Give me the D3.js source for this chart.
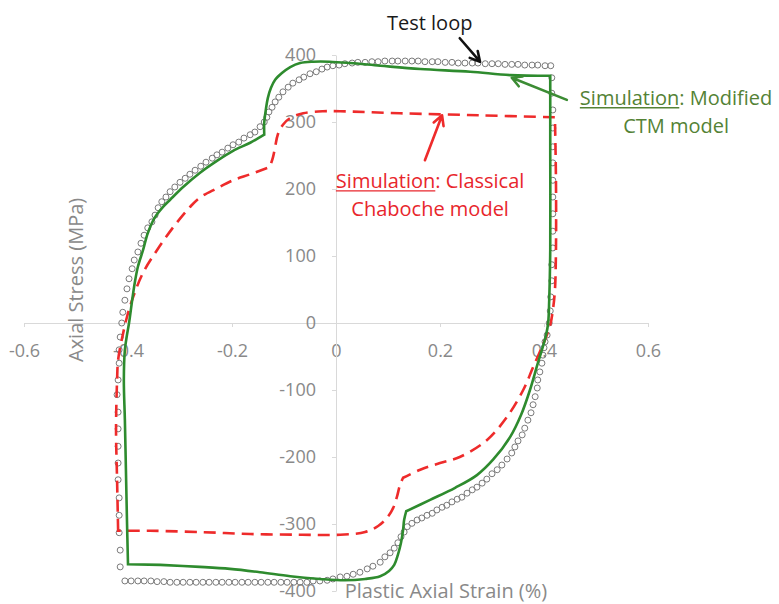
<!DOCTYPE html>
<html>
<head>
<meta charset="utf-8">
<script src="https://cdn.jsdelivr.net/npm/d3@7"></script>
<style>
  body { margin: 0; background: #fff; }
  svg { display: block; }
</style>
</head>
<body>
<svg id="chart" width="779" height="604"></svg>
<script>
// Axis ticks
const xTicks = [-0.6, -0.4, -0.2, 0, 0.2, 0.4, 0.6];
const xTickLabels = ["-0.6", "-0.4", "-0.2", "0", "0.2", "0.4", "0.6"];
const yTicks = [-400, -300, -200, -100, 0, 100, 200, 300, 400];
const yTickLabels = ["-400", "-300", "-200", "-100", "0", "100", "200", "300", "400"];

// Measured hysteresis loop: [plastic strain %, stress MPa]
const testLoading = [
  [-0.415,-364],[-0.415,-339],[-0.417,-313],[-0.417,-287],[-0.417,-261],[-0.419,-234],[-0.419,-209],
  [-0.419,-184],[-0.419,-158],[-0.419,-133],[-0.421,-107],[-0.419,-85],[-0.417,-60],[-0.417,-40],
  [-0.415,-21],[-0.412,0],[-0.410,16],[-0.406,34],[-0.402,51],[-0.398,66],[-0.392,81],[-0.388,94],
  [-0.381,106],[-0.375,119],[-0.369,131],[-0.362,142],[-0.354,151],[-0.348,161],[-0.342,172],
  [-0.335,181],[-0.327,188],[-0.319,196],[-0.310,203],[-0.300,210],[-0.290,216],[-0.281,222],
  [-0.271,228],[-0.260,234],[-0.250,240],[-0.238,246],[-0.229,251],[-0.219,255],[-0.208,261],
  [-0.198,266],[-0.187,270],[-0.177,276],[-0.165,281],[-0.156,285],[-0.146,293],[-0.138,300],
  [-0.133,307],[-0.129,315],[-0.123,322],[-0.117,330],[-0.110,337],[-0.102,345],[-0.092,352],
  [-0.083,358],[-0.071,363],[-0.062,367],[-0.050,372],[-0.038,375],[-0.027,379],[-0.017,382],
  [-0.006,384],[0.006,385],[0.017,387],[0.031,388],[0.042,389],[0.056,389],[0.069,390],[0.081,390],
  [0.094,391],[0.108,391],[0.119,391],[0.133,391],[0.146,391],[0.158,391],[0.171,390],[0.185,390],
  [0.196,390],[0.210,389],[0.223,389],[0.235,388],[0.248,388],[0.262,388],[0.273,388],[0.287,387],
  [0.300,387],[0.312,387],[0.325,386],[0.338,386],[0.350,386],[0.363,385],[0.377,385],[0.388,385],
  [0.402,384],[0.413,384]
];
const testUnloading = [
  [0.415,366],[0.415,343],[0.417,318],[0.417,291],[0.417,263],[0.417,239],[0.417,213],[0.417,188],
  [0.417,163],[0.417,137],[0.417,112],[0.415,87],[0.415,63],[0.413,39],[0.412,18],[0.410,0],
  [0.406,-18],[0.402,-28],[0.400,-37],[0.398,-48],[0.396,-60],[0.392,-73],[0.388,-85],[0.387,-97],
  [0.383,-110],[0.379,-122],[0.375,-134],[0.369,-145],[0.363,-157],[0.358,-167],[0.350,-176],
  [0.344,-185],[0.338,-194],[0.329,-203],[0.319,-212],[0.310,-219],[0.300,-225],[0.290,-233],
  [0.281,-239],[0.271,-245],[0.262,-249],[0.252,-254],[0.242,-260],[0.233,-263],[0.223,-267],
  [0.213,-272],[0.204,-275],[0.194,-279],[0.185,-284],[0.175,-287],[0.165,-291],[0.156,-294],
  [0.146,-299],[0.137,-304],[0.131,-312],[0.125,-319],[0.119,-328],[0.112,-336],[0.104,-343],
  [0.094,-349],[0.085,-357],[0.071,-363],[0.060,-367],[0.046,-372],[0.033,-375],[0.021,-378],
  [0.008,-379],[-0.006,-382],[-0.017,-384],[-0.031,-385],[-0.044,-385],[-0.056,-387],[-0.069,-387],
  [-0.081,-387],[-0.094,-387],[-0.106,-387],[-0.119,-387],[-0.131,-387],[-0.144,-387],[-0.156,-387],
  [-0.169,-387],[-0.181,-387],[-0.194,-387],[-0.206,-387],[-0.219,-387],[-0.231,-387],[-0.244,-387],
  [-0.256,-387],[-0.269,-387],[-0.281,-387],[-0.294,-387],[-0.306,-387],[-0.319,-387],[-0.331,-386],
  [-0.344,-386],[-0.356,-385],[-0.369,-385],[-0.381,-385],[-0.394,-385],[-0.406,-385]
];

// Simulation: modified CTM model
const ctmLoading = [
  [-0.400,-360],[-0.402,-294],[-0.404,-219],[-0.406,-145],[-0.408,-85],[-0.406,-40],[-0.402,-18],
  [-0.398,0],[-0.392,34],[-0.387,60],[-0.381,84],[-0.371,109],[-0.362,134],[-0.348,158],[-0.333,173],
  [-0.319,184],[-0.294,203],[-0.262,224],[-0.229,242],[-0.198,257],[-0.165,269],[-0.138,281],
  [-0.138,299],[-0.135,318],[-0.131,336],[-0.125,351],[-0.117,363],[-0.104,373],[-0.088,382],
  [-0.069,388],[-0.044,390],[-0.012,390],[0.027,388],[0.085,384],[0.162,379],[0.258,375],
  [0.335,370],[0.412,369]
];
const ctmUnloading = [
  [0.412,369],[0.412,258],[0.412,109],[0.410,34],[0.408,0],[0.404,-18],[0.396,-40],[0.387,-63],
  [0.373,-100],[0.356,-137],[0.335,-170],[0.302,-204],[0.271,-227],[0.229,-246],[0.181,-264],
  [0.135,-281],[0.131,-294],[0.129,-309],[0.125,-328],[0.119,-346],[0.112,-361],[0.102,-370],
  [0.085,-378],[0.056,-382],[0.017,-384],[-0.031,-382],[-0.088,-378],[-0.146,-372],[-0.204,-367],
  [-0.262,-364],[-0.338,-361],[-0.400,-360]
];

// Simulation: classical Chaboche model
const chabocheLoading = [
  [-0.419,-310],[-0.421,-234],[-0.423,-160],[-0.421,-85],[-0.419,-55],[-0.412,-25],[-0.402,9],
  [-0.390,39],[-0.371,75],[-0.344,109],[-0.313,143],[-0.281,173],[-0.262,187],[-0.229,201],
  [-0.198,213],[-0.165,222],[-0.127,233],[-0.121,248],[-0.117,263],[-0.112,281],[-0.102,296],
  [-0.088,306],[-0.063,313],[-0.025,316],[0.008,316],[0.123,313],[0.277,310],[0.421,307]
];
const chabocheUnloading = [
  [0.421,307],[0.423,213],[0.423,109],[0.421,49],[0.417,19],[0.412,-3],[0.402,-25],[0.379,-66],
  [0.360,-100],[0.329,-140],[0.290,-175],[0.238,-200],[0.200,-209],[0.162,-219],[0.129,-231],
  [0.123,-242],[0.117,-260],[0.110,-276],[0.098,-291],[0.081,-303],[0.056,-312],[0.008,-316],
  [-0.069,-316],[-0.165,-315],[-0.262,-312],[-0.358,-310],[-0.419,-310]
];

// Callouts, anchored in data units: [strain, stress]
const testCallout   = { text: "Test loop", at: [0.098, 437], tail: [0.238, 425], tip: [0.277, 390] };
const ctmCallout    = { lines: [["Simulation", ": Modified"], ["", "CTM model"]],
                        at: [0.654, 325], tail: [0.444, 333], tip: [0.338, 366] };
const chabocheCallout = { lines: [["Simulation", ": Classical"], ["", "Chaboche model"]],
                        at: [0.181, 201], tail: [0.171, 243], tip: [0.204, 310] };

const svg = d3.select("#chart");
const x = d3.scaleLinear().domain([-0.6, 0.6]).range([24, 648]);
const y = d3.scaleLinear().domain([-400, 400]).range([591, 55]);

const FONT = "'Open Sans', 'Noto Sans', sans-serif";
const axisColor = "#d9d9d9";
const labelColor = "#898989";

// Axes crossing at the origin
const xAxis = svg.append("g")
  .attr("transform", `translate(0,${y(0)})`)
  .call(d3.axisBottom(x).tickValues(xTicks)
    .tickFormat((d, i) => xTickLabels[i]).tickSizeInner(4).tickSizeOuter(0).tickPadding(17));
const yAxis = svg.append("g")
  .attr("transform", `translate(${x(0)},0)`)
  .call(d3.axisLeft(y).tickValues(yTicks)
    .tickFormat((d, i) => yTickLabels[i]).tickSizeInner(4).tickSizeOuter(0).tickPadding(16));

[xAxis, yAxis].forEach(g => {
  g.select(".domain").attr("stroke", axisColor).attr("stroke-width", 1);
  g.selectAll(".tick line").attr("stroke", axisColor);
  g.selectAll(".tick text").attr("fill", labelColor)
    .style("font-family", FONT).style("font-size", "18px");
});

// Axis titles
svg.append("text")
  .attr("x", 446).attr("y", 598)
  .attr("text-anchor", "middle")
  .style("font-family", FONT).style("font-size", "20px")
  .attr("fill", labelColor)
  .text("Plastic Axial Strain (%)");
svg.append("text")
  .attr("transform", "translate(83,362) rotate(-90)")
  .attr("text-anchor", "start")
  .style("font-family", FONT).style("font-size", "20px")
  .attr("fill", labelColor)
  .text("Axial Stress (MPa)");

// Test loop markers
const testPoints = testLoading.concat(testUnloading);
svg.append("g").selectAll("circle")
  .data(testPoints)
  .join("circle")
  .attr("cx", d => x(d[0]))
  .attr("cy", d => y(d[1]))
  .attr("r", 3)
  .attr("fill", "none")
  .attr("stroke", "#7a7a7a")
  .attr("stroke-width", 1);

// Closed loop path: smooth between points, sharp where the direction turns abruptly
const smooth = d3.line().curve(d3.curveCatmullRom.alpha(0.5));
function loopPath(points) {
  const p = points.map(d => [x(d[0]), y(d[1])]);
  const segments = [];
  let cur = [p[0]];
  for (let i = 1; i < p.length; i++) {
    cur.push(p[i]);
    if (i < p.length - 1) {
      const a1 = Math.atan2(p[i][1] - p[i - 1][1], p[i][0] - p[i - 1][0]);
      const a2 = Math.atan2(p[i + 1][1] - p[i][1], p[i + 1][0] - p[i][0]);
      let turn = Math.abs(a2 - a1);
      if (turn > Math.PI) turn = 2 * Math.PI - turn;
      if (turn > 35 * Math.PI / 180) { segments.push(cur); cur = [p[i]]; }
    }
  }
  segments.push(cur);
  return segments.map((s, i) => {
    const d = smooth(s);
    return i === 0 ? d : d.replace(/^M/, "L");
  }).join("") + "Z";
}

// Classical Chaboche simulation (dashed red)
svg.append("path")
  .attr("d", loopPath(chabocheLoading.concat(chabocheUnloading.slice(1, -1))))
  .attr("fill", "none")
  .attr("stroke", "#ee2b2b")
  .attr("stroke-width", 2.6)
  .attr("stroke-dasharray", "12,7");

// Modified CTM simulation (solid green)
svg.append("path")
  .attr("d", loopPath(ctmLoading.concat(ctmUnloading.slice(1, -1))))
  .attr("fill", "none")
  .attr("stroke", "#2e8b2e")
  .attr("stroke-width", 2.6)
  .attr("stroke-linejoin", "miter");

// Callout arrows
function arrow(tail, tip, color) {
  const x1 = x(tail[0]), y1 = y(tail[1]), x2 = x(tip[0]), y2 = y(tip[1]);
  const a = Math.atan2(y2 - y1, x2 - x1);
  const len = 11, spread = 0.5;
  const h1 = [x2 - len * Math.cos(a - spread), y2 - len * Math.sin(a - spread)];
  const h2 = [x2 - len * Math.cos(a + spread), y2 - len * Math.sin(a + spread)];
  svg.append("path")
    .attr("d", `M${x1},${y1}L${x2},${y2}M${h1[0]},${h1[1]}L${x2},${y2}L${h2[0]},${h2[1]}`)
    .attr("fill", "none")
    .attr("stroke", color)
    .attr("stroke-width", 2.6)
    .attr("stroke-linecap", "round")
    .attr("stroke-linejoin", "round");
}

function callout(c, color) {
  const cx = x(c.at[0]);
  c.lines.forEach((parts, i) => {
    const by = y(c.at[1]) + i * 28;
    const t = svg.append("text")
      .attr("x", cx).attr("y", by)
      .attr("text-anchor", "middle")
      .style("font-family", FONT).style("font-size", "20px")
      .attr("fill", color);
    const first = t.append("tspan").text(parts[0]);
    t.append("tspan").text(parts[1]);
    if (parts[0]) {
      const total = t.node().getComputedTextLength();
      const w = first.node().getComputedTextLength();
      const x0 = cx - total / 2;
      svg.append("line")
        .attr("x1", x0).attr("x2", x0 + w)
        .attr("y1", by + 2.5).attr("y2", by + 2.5)
        .attr("stroke", color).attr("stroke-width", 1.4);
    }
  });
}

svg.append("text")
  .attr("x", x(testCallout.at[0])).attr("y", y(testCallout.at[1]))
  .style("font-family", FONT).style("font-size", "20px")
  .attr("fill", "#1a1a1a")
  .text(testCallout.text);
arrow(testCallout.tail, testCallout.tip, "#111");

callout(ctmCallout, "#548235");
arrow(ctmCallout.tail, ctmCallout.tip, "#3c8c34");

callout(chabocheCallout, "#e8262c");
arrow(chabocheCallout.tail, chabocheCallout.tip, "#ee2b2b");
</script>
</body>
</html>
